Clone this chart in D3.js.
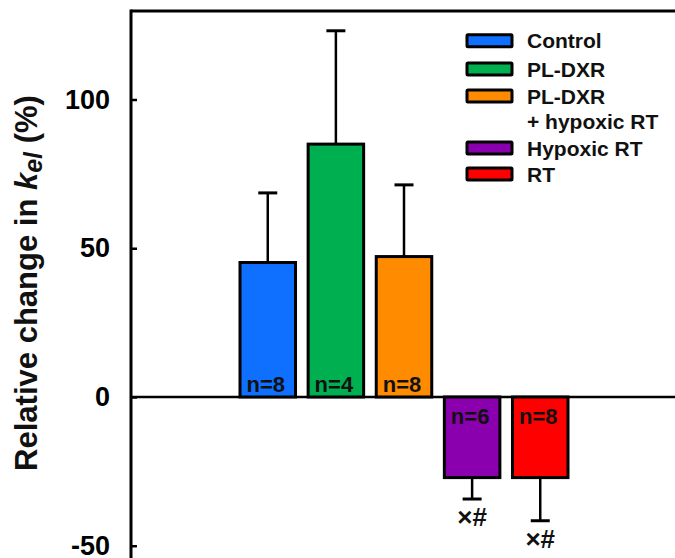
<!DOCTYPE html>
<html>
<head>
<meta charset="utf-8">
<script src="https://cdn.jsdelivr.net/npm/d3@7"></script>
<style>
  body { margin: 0; background: #fff; }
  svg { display: block; font-family: Arial, "Liberation Sans", sans-serif; font-weight: bold; }
</style>
</head>
<body>
<div id="chart"></div>
<script>
// data
var groups = ["Control", "PL-DXR", "PL-DXR + hypoxic RT", "Hypoxic RT", "RT"];
var means = [45.2, 85, 47.2, -27.1, -27.1];
var errs = [23.4, 38.1, 24.1, 7.2, 14.5];
var nLabels = ["n=8", "n=4", "n=8", "n=6", "n=8"];
var sigMarks = ["", "", "", "×#", "×#"];
var colors = ["#0f6fff", "#00b050", "#ff8c00", "#8b00ae", "#ff0000"];
var legendLines = [["Control"], ["PL-DXR"], ["PL-DXR", "+ hypoxic RT"], ["Hypoxic RT"], ["RT"]];
var yTicks = [-50, 0, 50, 100];

var width = 675, height = 558;
var axisX = 131, topY = 11;

var svg = d3.select("#chart").append("svg").attr("width", width).attr("height", height);

var y = d3.scaleLinear().domain([-55, 130]).range([560.6, 10.25]);
var x = d3.scaleBand().domain(groups).range([240, 568]).paddingInner(0.185).paddingOuter(0);

// frame: top line + left axis
svg.append("line").attr("x1", axisX).attr("x2", width).attr("y1", topY).attr("y2", topY)
  .attr("stroke", "#000").attr("stroke-width", 3);

// zero line
svg.append("line").attr("x1", axisX).attr("x2", width).attr("y1", y(0)).attr("y2", y(0))
  .attr("stroke", "#000").attr("stroke-width", 2.5);

// bars
var bars = svg.selectAll(".bar").data(groups).enter().append("g").attr("class", "bar");

bars.append("line")
  .attr("x1", function(d) { return x(d) + x.bandwidth() / 2; })
  .attr("x2", function(d) { return x(d) + x.bandwidth() / 2; })
  .attr("y1", function(d, i) { return y(means[i]); })
  .attr("y2", function(d, i) { return y(means[i] + Math.sign(means[i]) * errs[i]); })
  .attr("stroke", "#000").attr("stroke-width", 2.5);

bars.append("line")
  .attr("x1", function(d) { return x(d) + x.bandwidth() / 2 - 9.5; })
  .attr("x2", function(d) { return x(d) + x.bandwidth() / 2 + 9.5; })
  .attr("y1", function(d, i) { return y(means[i] + Math.sign(means[i]) * errs[i]); })
  .attr("y2", function(d, i) { return y(means[i] + Math.sign(means[i]) * errs[i]); })
  .attr("stroke", "#000").attr("stroke-width", 3);

bars.append("rect")
  .attr("x", function(d) { return x(d); })
  .attr("width", x.bandwidth())
  .attr("y", function(d, i) { return y(Math.max(0, means[i])); })
  .attr("height", function(d, i) { return Math.abs(y(means[i]) - y(0)); })
  .attr("fill", function(d, i) { return colors[i]; })
  .attr("stroke", "#000").attr("stroke-width", 3);

bars.append("text")
  .attr("x", function(d) { return x(d) + x.bandwidth() / 2 - 2; })
  .attr("y", function(d, i) { return means[i] > 0 ? y(0) - 5 : y(0) + 27; })
  .attr("text-anchor", "middle").attr("font-size", 22).attr("fill", "#111")
  .text(function(d, i) { return nLabels[i]; });

bars.append("text")
  .attr("x", function(d) { return x(d) + x.bandwidth() / 2; })
  .attr("y", function(d, i) { return y(means[i] - errs[i]) + 27; })
  .attr("text-anchor", "middle").attr("font-size", 26).attr("fill", "#111")
  .text(function(d, i) { return sigMarks[i]; });

// y axis, ticks pointing inward
var yAxis = svg.append("g").attr("transform", "translate(" + axisX + ",0)")
  .call(d3.axisRight(y).tickValues(yTicks).tickSize(6).tickFormat(function(d) { return String(d); }));
yAxis.select(".domain").remove();
yAxis.selectAll(".tick line").attr("stroke", "#000").attr("stroke-width", 2.5);
yAxis.selectAll(".tick text").attr("x", -21).attr("text-anchor", "end")
  .attr("font-size", 27).attr("font-family", "Arial, 'Liberation Sans', sans-serif")
  .attr("font-weight", "bold").attr("fill", "#000");

svg.append("line").attr("x1", axisX).attr("x2", axisX).attr("y1", topY - 1.5).attr("y2", height)
  .attr("stroke", "#000").attr("stroke-width", 3);

// y title
var title = svg.append("text").attr("transform", "translate(37,283) rotate(-90)")
  .attr("text-anchor", "middle").attr("font-size", 31).attr("fill", "#111");
title.append("tspan").text("Relative change in ");
title.append("tspan").attr("font-style", "italic").text("k");
title.append("tspan").attr("font-style", "italic").attr("font-size", 25).attr("dy", 5).text("el");
title.append("tspan").attr("dy", -5).text(" (%)");

// legend
var legendY = [40.7, 69, 96, 148, 174];
var legend = svg.selectAll(".leg").data(groups).enter().append("g")
  .attr("transform", function(d, i) { return "translate(0," + legendY[i] + ")"; });
legend.append("rect").attr("x", 467).attr("y", -6).attr("width", 45).attr("height", 12)
  .attr("fill", function(d, i) { return colors[i]; })
  .attr("stroke", "#000").attr("stroke-width", 3).attr("rx", 1);
legend.each(function(d, i) {
  var g = d3.select(this);
  legendLines[i].forEach(function(line, j) {
    g.append("text").attr("x", 527).attr("y", 7.5 + j * 25.5)
      .attr("font-size", 21).attr("fill", "#111").text(line);
  });
});
</script>
</body>
</html>
